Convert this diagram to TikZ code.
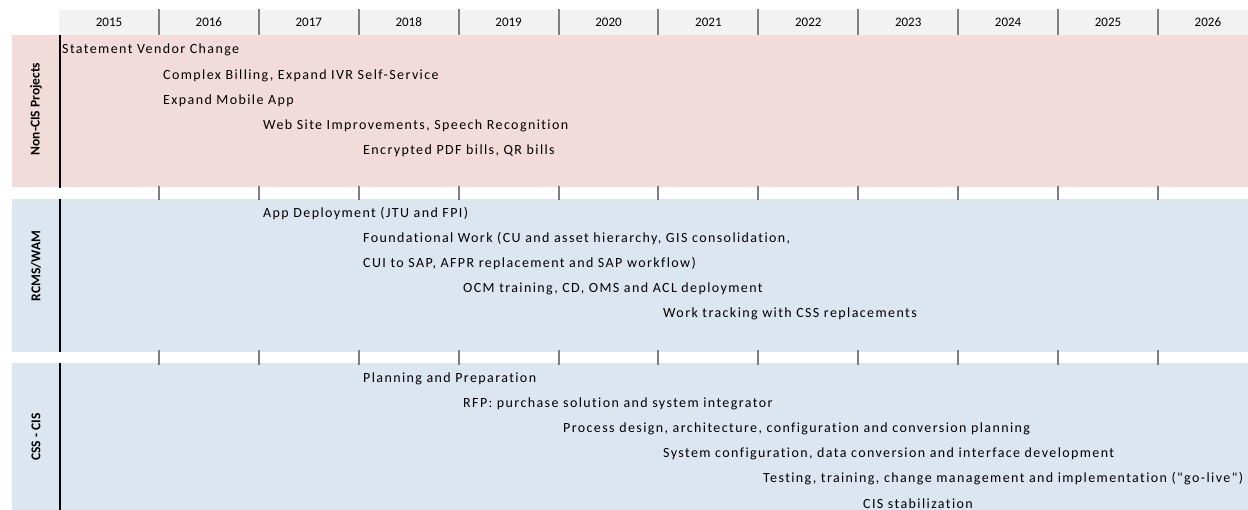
\documentclass[tikz,border=0pt]{standalone}
\usepackage{fontspec}
\setmainfont{Carlito}
\newfontfamily\spacedfont[LetterSpace=10,Ligatures=NoCommon]{Carlito}
\usetikzlibrary{positioning}
\definecolor{pinkband}{HTML}{F2DCDB}
\definecolor{blueband}{HTML}{DCE6F1}
\definecolor{headband}{HTML}{F2F2F2}
\definecolor{tickgray}{HTML}{7F7F7F}
\tikzset{
	year/.style={inner sep=0pt, font=\fontsize{13}{15}\selectfont},
	task/.style={anchor=west, inner sep=0pt, font=\spacedfont\fontsize{14}{16}\selectfont},
	lane/.style={rotate=90, inner sep=0pt, font=\bfseries\fontsize{13.5}{15}\selectfont},
	sep/.style={tickgray, line width=2pt},
}

\begin{document}
\begin{tikzpicture}[x=1pt,y=-1pt]

	\useasboundingbox (0,0) rectangle (1248,510);
	\fill[headband] (59,10) rectangle (1248,35);
	\fill[pinkband] (12,35) rectangle (1248,187);
	\fill[blueband] (12,199) rectangle (1248,352);
	\fill[blueband] (12,363) rectangle (1248,510);
	\draw[line width=1.5pt]
	(60,35) -- (60,188)
	(60,199) -- (60,352)
	(60,363) -- (60,510);

	\foreach \yr [count=\i from 0] in {2015,...,2026}
		\node[year] (y\yr) at (109+99.9*\i,22) {\yr};
	\foreach \i in {1,...,11}
		\draw[sep]
		(59+99.9*\i,9) -- ++(0,26)
		(59+99.9*\i,186) -- ++(0,14)
		(59+99.9*\i,350) -- ++(0,15);

	\node[lane] (noncis) at (36,109) {Non-CIS Projects};
	\node[lane] (rcms) at (36,266) {RCMS/WAM};
	\node[lane] (csscis) at (36,437) {CSS - CIS};

	\node[task] (vendor) at (62,50) {Statement Vendor Change};
	\node[task] (billing) at (163,76) {Complex Billing, Expand IVR Self-Service};
	\node[task] (mobile) at (163,101) {Expand Mobile App};
	\node[task] (website) at (263,126) {Web Site Improvements, Speech Recognition};
	\node[task] (pdf) at (363,151) {Encrypted PDF bills, QR bills};

	\node[task] (appdep) at (263,214) {App Deployment (JTU and FPI)};
	\node[task] (found) at (363,239) {Foundational Work (CU and asset hierarchy, GIS consolidation,};
	\node[task] (cui) at (363,264) {CUI to SAP, AFPR replacement and SAP workflow)};
	\node[task] (ocm) at (463,289) {OCM training, CD, OMS and ACL deployment};
	\node[task] (tracking) at (663,314) {Work tracking with CSS replacements};

	\node[task] (planning) at (363,379) {Planning and Preparation};
	\node[task] (rfp) at (463,404) {RFP: purchase solution and system integrator};
	\node[task] (design) at (563,429) {Process design, architecture, configuration and conversion planning};
	\node[task] (config) at (663,454) {System configuration, data conversion and interface development};
	\node[task] (testing) at (763,479) {Testing, training, change management and implementation ("go-live")};
	\node[task] (stabil) at (863,504) {CIS stabilization};

\end{tikzpicture}
\end{document}
